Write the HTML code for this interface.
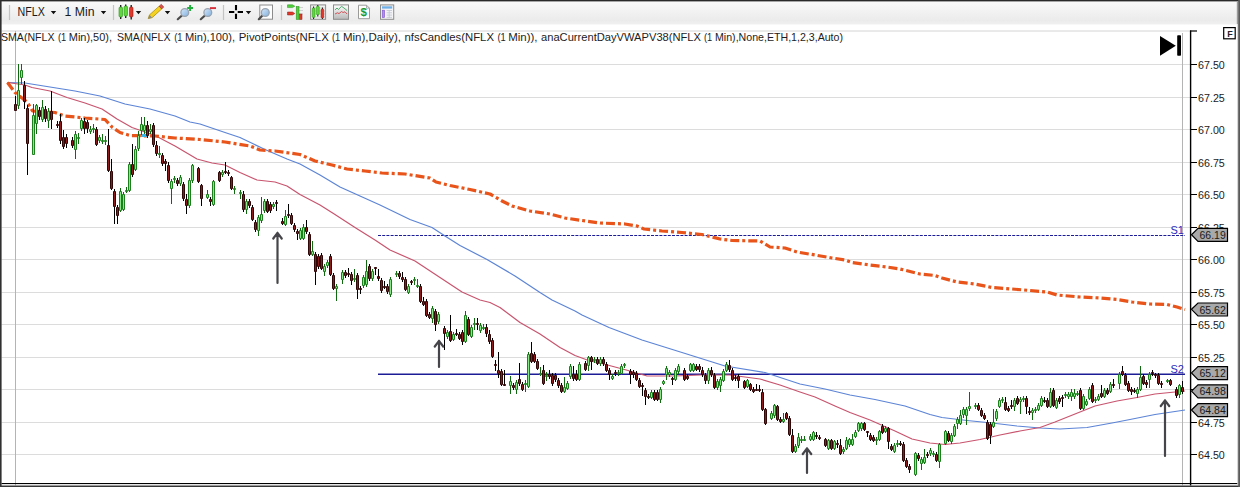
<!DOCTYPE html><html><head><meta charset="utf-8"><title>NFLX 1 Min chart</title>
<style>html,body{margin:0;padding:0;background:#fff;}body{width:1240px;height:487px;overflow:hidden;font-family:"Liberation Sans",sans-serif;}svg{display:block;}text{font-family:"Liberation Sans",sans-serif;}</style></head><body>
<svg width="1240" height="487" viewBox="0 0 1240 487">
<defs><linearGradient id="tb" x1="0" y1="0" x2="0" y2="1"><stop offset="0" stop-color="#fbfbfb"/><stop offset="0.85" stop-color="#ebebeb"/><stop offset="1" stop-color="#f0f0f0"/></linearGradient><linearGradient id="lens" x1="0" y1="0" x2="1" y2="1"><stop offset="0" stop-color="#d8e8f8"/><stop offset="1" stop-color="#7fb0e0"/></linearGradient><linearGradient id="gbox" x1="0" y1="0" x2="0" y2="1"><stop offset="0" stop-color="#ffffff"/><stop offset="1" stop-color="#b8b8b8"/></linearGradient></defs>
<rect x="0" y="0" width="1240" height="487" fill="#ffffff"/>
<rect x="0" y="0" width="1240" height="24" fill="url(#tb)"/>
<rect x="0" y="24" width="1240" height="1" fill="#f8f8f8"/>
<path d="M1.5 64.50H1190 M1.5 97.50H1190 M1.5 129.50H1190 M1.5 162.50H1190 M1.5 194.50H1190 M1.5 227.50H1190 M1.5 259.50H1190 M1.5 292.50H1190 M1.5 324.50H1190 M1.5 357.50H1190 M1.5 389.50H1190 M1.5 422.50H1190 M1.5 454.50H1190" stroke="#dcdcdc" stroke-width="1" fill="none"/>
<path d="M1.5 31H1190" stroke="#d4d4d4" stroke-width="1" fill="none"/>
<path d="M15.5 31V485.4M1182.5 33V485.4" stroke="#b4b4b4" stroke-width="1" fill="none"/>
<path d="M378 235.5H1185" stroke="#1c1c96" stroke-width="1.2" stroke-dasharray="3 1.2" fill="none"/>
<path d="M378 374.3H1185" stroke="#1c1c96" stroke-width="1.4" fill="none"/>
<path d="M7.5 82.5 L25.0 83.0 L50.0 87.0 L75.0 91.0 L100.0 96.0 L125.0 104.0 L150.0 109.0 L175.0 116.0 L190.0 122.0 L200.0 124.0 L225.0 132.5 L240.0 137.5 L265.0 149.5 L287.0 159.0 L300.0 164.0 L320.0 175.0 L340.0 187.0 L360.0 196.0 L380.0 205.0 L410.0 219.5 L432.0 227.5 L445.0 236.0 L460.0 245.5 L487.0 259.5 L515.0 276.0 L540.0 292.5 L552.0 300.0 L575.0 311.0 L582.0 315.0 L609.0 327.5 L642.0 340.0 L682.0 352.5 L725.0 366.0 L765.0 372.5 L800.0 384.0 L825.0 389.0 L850.0 395.0 L875.0 399.5 L905.0 406.0 L930.0 414.5 L942.0 417.5 L967.0 420.5 L992.0 423.0 L1017.0 426.0 L1040.0 428.0 L1060.0 429.0 L1087.0 427.5 L1112.0 423.0 L1130.0 419.5 L1155.0 414.5 L1185.0 410.0" stroke="#5c84d6" stroke-width="1.2" fill="none" stroke-linejoin="round"/>
<path d="M7.5 82.5 L25.0 85.0 L32.0 87.5 L50.0 91.0 L67.0 97.5 L85.0 103.0 L102.0 109.0 L117.0 119.0 L132.0 127.5 L155.0 135.5 L175.0 146.0 L197.0 159.0 L212.0 163.0 L225.0 165.0 L240.0 172.5 L257.0 180.0 L275.0 182.0 L287.0 186.0 L300.0 194.5 L320.0 205.0 L335.0 214.5 L355.0 227.5 L375.0 240.0 L390.0 250.0 L415.0 261.0 L440.0 277.5 L462.0 292.0 L480.0 300.0 L490.0 302.5 L500.0 307.5 L520.0 322.5 L540.0 334.0 L560.0 347.5 L575.0 355.5 L590.0 361.0 L600.0 363.0 L615.0 367.0 L630.0 371.0 L647.0 376.0 L675.0 376.0 L700.0 375.0 L730.0 375.0 L760.0 379.0 L780.0 385.0 L800.0 392.0 L815.0 397.0 L835.0 406.0 L850.0 412.5 L870.0 420.0 L887.0 427.5 L895.0 431.0 L912.0 439.0 L930.0 443.0 L945.0 444.5 L960.0 443.0 L980.0 439.5 L1000.0 435.0 L1020.0 431.0 L1040.0 427.5 L1055.0 422.0 L1075.0 414.0 L1095.0 406.0 L1117.0 401.0 L1137.0 397.5 L1155.0 394.0 L1170.0 392.5 L1185.0 391.0" stroke="#c8546e" stroke-width="1.2" fill="none" stroke-linejoin="round"/>
<path d="M7.5 82.5 L15.0 92.5 L22.0 98.0 L27.5 102.5 L32.5 111.0 L55.0 112.5 L65.0 116.0 L85.0 118.0 L105.0 119.5 L112.5 127.5 L120.0 132.5 L130.0 135.5 L155.0 136.0 L175.0 138.0 L200.0 139.5 L225.0 142.0 L250.0 146.0 L260.0 150.0 L275.0 151.0 L300.0 154.5 L315.0 161.0 L332.0 165.0 L347.0 169.0 L365.0 171.0 L382.0 173.0 L405.0 174.0 L430.0 178.0 L436.0 182.0 L450.0 185.5 L470.0 189.5 L490.0 194.0 L502.0 201.0 L512.0 206.0 L530.0 211.0 L550.0 214.0 L565.0 218.0 L582.0 220.5 L600.0 223.0 L625.0 224.0 L637.0 226.0 L644.0 229.0 L662.0 231.0 L682.0 232.5 L702.0 234.5 L720.0 239.0 L732.0 240.5 L760.0 241.0 L770.0 247.0 L785.0 248.0 L797.0 252.0 L815.0 255.0 L832.0 258.0 L845.0 260.0 L852.0 262.5 L870.0 265.0 L887.0 267.0 L900.0 269.0 L920.0 274.0 L935.0 275.5 L942.0 278.0 L957.0 282.0 L975.0 284.0 L992.0 287.5 L1012.0 289.0 L1030.0 290.5 L1047.0 292.0 L1057.0 295.0 L1080.0 297.0 L1100.0 298.0 L1117.0 299.5 L1132.0 302.0 L1150.0 304.0 L1167.0 304.5 L1177.0 307.0 L1185.0 309.5" stroke="#e8541a" stroke-width="3.2" stroke-dasharray="9 3 3 3" fill="none" stroke-linejoin="round"/>
<rect x="141" y="134" width="6" height="3" fill="#35b6e6"/>
<path d="M18.5 64V109 M21.5 64V84 M33.5 104V155 M36.5 104V134 M42.5 100V122 M48.5 108V128 M75.5 131V159 M78.5 133V144 M81.5 118V131 M90.5 126V134 M93.5 124V133 M99.5 135V143 M102.5 134V144 M105.5 136V145 M120.5 188V212 M123.5 192V211 M126.5 187V193 M129.5 162V192 M135.5 146V171 M138.5 131V151 M141.5 117V135 M144.5 117V134 M150.5 124V134 M159.5 146V158 M171.5 179V204 M174.5 176V183 M180.5 175V186 M189.5 178V208 M192.5 164V183 M207.5 190V199 M213.5 180V206 M222.5 170V177 M234.5 186V194 M240.5 190V199 M246.5 199V214 M258.5 215V236 M261.5 197V223 M264.5 199V213 M273.5 202V209 M285.5 210V226 M300.5 228V240 M303.5 224V240 M312.5 241V256 M324.5 264V276 M327.5 260V268 M336.5 284V301 M342.5 270V284 M354.5 269V282 M363.5 275V288 M366.5 260V287 M372.5 269V281 M390.5 277V297 M396.5 271V277 M408.5 284V294 M414.5 277V285 M417.5 279V288 M432.5 306V323 M438.5 312V324 M447.5 330V339 M453.5 332V341 M465.5 311V343 M471.5 325V338 M474.5 318V330 M480.5 323V333 M483.5 324V330 M510.5 376V394 M516.5 380V394 M525.5 380V392 M528.5 352V388 M540.5 367V376 M546.5 372V381 M564.5 377V393 M567.5 381V390 M570.5 364V379 M579.5 362V381 M588.5 356V371 M594.5 357V363 M600.5 357V366 M612.5 374V380 M618.5 370V376 M621.5 364V375 M624.5 363V368 M651.5 390V399 M660.5 387V403 M663.5 380V385 M666.5 366V380 M669.5 370V377 M675.5 368V381 M678.5 364V374 M690.5 363V372 M693.5 363V372 M708.5 368V384 M717.5 379V390 M720.5 377V392 M723.5 369V382 M726.5 362V372 M747.5 379V388 M771.5 411V420 M774.5 404V418 M783.5 413V423 M795.5 444V453 M798.5 433V448 M801.5 436V443 M804.5 436V441 M810.5 434V441 M813.5 431V441 M828.5 439V450 M834.5 440V450 M843.5 447V454 M846.5 437V450 M849.5 438V447 M852.5 434V446 M855.5 430V438 M858.5 422V432 M861.5 422V431 M876.5 437V445 M879.5 430V441 M885.5 426V433 M894.5 443V453 M897.5 440V447 M915.5 452V476 M921.5 457V470 M924.5 449V464 M930.5 448V456 M933.5 451V457 M939.5 443V468 M945.5 430V445 M951.5 433V444 M954.5 424V437 M957.5 417V429 M960.5 410V425 M963.5 407V418 M966.5 407V425 M969.5 392V411 M975.5 403V409 M993.5 409V428 M996.5 409V421 M999.5 398V408 M1002.5 397V403 M1014.5 398V411 M1020.5 397V414 M1023.5 396V402 M1032.5 408V420 M1035.5 407V413 M1038.5 403V411 M1041.5 396V407 M1050.5 388V408 M1056.5 398V409 M1065.5 392V398 M1068.5 392V399 M1071.5 389V401 M1074.5 389V399 M1077.5 391V396 M1083.5 394V410 M1086.5 399V406 M1089.5 387V400 M1095.5 397V403 M1098.5 394V401 M1104.5 388V398 M1110.5 382V393 M1119.5 372V389 M1137.5 387V398 M1140.5 366V391 M1149.5 372V388 M1167.5 379V383 M1179.5 384V398" stroke="#0f6a0f" stroke-width="1" fill="none"/>
<path d="M15.5 96V111 M24.5 81V109 M27.5 105V175 M39.5 107V120 M45.5 106V122 M51.5 91V129 M57.5 121V128 M60.5 114V144 M63.5 130V149 M66.5 134V148 M72.5 137V148 M84.5 118V134 M87.5 120V133 M96.5 127V146 M108.5 129V172 M111.5 159V190 M114.5 189V224 M117.5 205V224 M132.5 144V177 M147.5 121V138 M153.5 123V147 M156.5 141V156 M162.5 153V166 M165.5 159V171 M168.5 162V183 M177.5 178V186 M183.5 182V201 M186.5 194V214 M198.5 167V183 M201.5 184V206 M210.5 197V206 M219.5 171V182 M225.5 162V174 M228.5 170V176 M231.5 176V190 M243.5 191V212 M249.5 199V208 M252.5 205V221 M255.5 220V232 M267.5 199V213 M270.5 202V213 M276.5 200V211 M282.5 218V225 M288.5 204V218 M291.5 213V225 M294.5 223V232 M297.5 229V240 M306.5 220V234 M309.5 232V256 M315.5 252V285 M318.5 254V269 M321.5 253V270 M330.5 254V276 M333.5 273V290 M345.5 270V278 M348.5 268V277 M351.5 272V285 M357.5 273V299 M360.5 286V294 M369.5 264V281 M375.5 267V275 M378.5 269V281 M381.5 278V293 M384.5 281V289 M387.5 284V294 M399.5 271V279 M402.5 272V282 M405.5 277V291 M411.5 280V285 M420.5 284V303 M423.5 297V306 M426.5 299V317 M429.5 312V319 M435.5 309V331 M444.5 326V350 M450.5 315V342 M456.5 329V336 M459.5 332V340 M462.5 330V345 M468.5 317V336 M477.5 318V330 M486.5 324V337 M489.5 330V344 M492.5 338V358 M495.5 360V371 M498.5 352V378 M501.5 369V386 M504.5 370V386 M513.5 383V390 M519.5 363V386 M522.5 382V391 M531.5 342V363 M534.5 352V363 M537.5 359V370 M543.5 365V385 M549.5 370V379 M552.5 373V386 M555.5 373V382 M558.5 378V388 M561.5 383V393 M573.5 366V381 M576.5 370V381 M585.5 361V371 M591.5 356V370 M597.5 357V365 M603.5 357V366 M606.5 362V372 M609.5 368V380 M615.5 370V376 M630.5 369V384 M633.5 370V378 M636.5 371V381 M639.5 378V388 M642.5 383V396 M645.5 388V405 M648.5 394V399 M654.5 390V401 M657.5 390V401 M672.5 377V385 M684.5 368V381 M687.5 374V380 M696.5 364V371 M699.5 364V372 M702.5 367V377 M705.5 373V384 M711.5 367V377 M714.5 373V389 M729.5 360V372 M732.5 368V381 M735.5 375V381 M738.5 374V388 M744.5 380V389 M750.5 383V391 M753.5 387V393 M756.5 384V391 M759.5 385V392 M762.5 389V411 M765.5 408V425 M777.5 405V421 M780.5 417V423 M786.5 412V420 M789.5 416V436 M792.5 429V453 M816.5 432V439 M819.5 435V440 M825.5 438V447 M831.5 439V450 M837.5 440V448 M840.5 439V455 M864.5 422V431 M867.5 431V437 M870.5 433V441 M873.5 435V442 M882.5 424V434 M888.5 427V449 M891.5 444V451 M900.5 441V446 M903.5 442V462 M906.5 458V468 M909.5 464V473 M918.5 453V461 M927.5 452V458 M936.5 452V462 M948.5 431V442 M978.5 403V411 M981.5 408V417 M984.5 413V420 M987.5 420V440 M990.5 422V444 M1005.5 397V411 M1008.5 406V412 M1011.5 400V409 M1017.5 396V405 M1026.5 396V414 M1029.5 407V415 M1044.5 397V403 M1047.5 398V408 M1053.5 388V407 M1059.5 396V404 M1062.5 395V407 M1080.5 388V410 M1092.5 383V403 M1101.5 385V398 M1107.5 388V395 M1113.5 379V388 M1122.5 366V376 M1125.5 373V386 M1128.5 381V392 M1131.5 387V395 M1134.5 388V393 M1143.5 374V385 M1146.5 380V388 M1152.5 370V376 M1155.5 373V378 M1158.5 373V385 M1161.5 381V388 M1170.5 379V386 M1176.5 387V398 M1182.5 381V394" stroke="#000000" stroke-width="1" fill="none"/>
<path d="M17.5 90.5H19.5V105.5H17.5Z M20.5 70.5H22.5V77.5H20.5Z M32.5 115.5H34.5V154.5H32.5Z M35.5 105.5H37.5V123.5H35.5Z M41.5 107.5H43.5V119.5H41.5Z M47.5 111.5H49.5V120.5H47.5Z M74.5 134.5H76.5V149.5H74.5Z M77.5 137.5H79.5V138.5H77.5Z M80.5 120.5H82.5V128.5H80.5Z M89.5 129.5H91.5V131.5H89.5Z M92.5 128.5H94.5V129.5H92.5Z M98.5 137.5H100.5V140.5H98.5Z M101.5 140.5H103.5V141.5H101.5Z M104.5 140.5H106.5V141.5H104.5Z M119.5 191.5H121.5V210.5H119.5Z M122.5 194.5H124.5V209.5H122.5Z M125.5 190.5H127.5V191.5H125.5Z M128.5 164.5H130.5V190.5H128.5Z M134.5 149.5H136.5V169.5H134.5Z M137.5 135.5H139.5V148.5H137.5Z M140.5 124.5H142.5V130.5H140.5Z M143.5 125.5H145.5V130.5H143.5Z M149.5 129.5H151.5V131.5H149.5Z M158.5 153.5H160.5V154.5H158.5Z M170.5 181.5H172.5V188.5H170.5Z M173.5 178.5H175.5V179.5H173.5Z M179.5 177.5H181.5V183.5H179.5Z M188.5 180.5H190.5V205.5H188.5Z M191.5 165.5H193.5V180.5H191.5Z M206.5 194.5H208.5V197.5H206.5Z M212.5 181.5H214.5V204.5H212.5Z M221.5 172.5H223.5V174.5H221.5Z M233.5 188.5H235.5V189.5H233.5Z M239.5 192.5H241.5V193.5H239.5Z M245.5 201.5H247.5V209.5H245.5Z M257.5 217.5H259.5V230.5H257.5Z M260.5 214.5H262.5V220.5H260.5Z M263.5 201.5H265.5V210.5H263.5Z M272.5 204.5H274.5V206.5H272.5Z M284.5 216.5H286.5V224.5H284.5Z M299.5 230.5H301.5V238.5H299.5Z M302.5 227.5H304.5V238.5H302.5Z M311.5 251.5H313.5V254.5H311.5Z M323.5 266.5H325.5V271.5H323.5Z M326.5 262.5H328.5V265.5H326.5Z M335.5 286.5H337.5V288.5H335.5Z M341.5 272.5H343.5V279.5H341.5Z M353.5 278.5H355.5V279.5H353.5Z M362.5 277.5H364.5V285.5H362.5Z M365.5 271.5H367.5V284.5H365.5Z M371.5 271.5H373.5V278.5H371.5Z M389.5 279.5H391.5V294.5H389.5Z M395.5 273.5H397.5V274.5H395.5Z M407.5 286.5H409.5V292.5H407.5Z M413.5 279.5H415.5V280.5H413.5Z M416.5 285.5H418.5V286.5H416.5Z M431.5 308.5H433.5V318.5H431.5Z M437.5 314.5H439.5V321.5H437.5Z M446.5 332.5H448.5V336.5H446.5Z M452.5 334.5H454.5V339.5H452.5Z M464.5 315.5H466.5V341.5H464.5Z M470.5 327.5H472.5V336.5H470.5Z M473.5 323.5H475.5V324.5H473.5Z M479.5 325.5H481.5V330.5H479.5Z M482.5 327.5H484.5V328.5H482.5Z M509.5 381.5H511.5V385.5H509.5Z M515.5 382.5H517.5V389.5H515.5Z M524.5 383.5H526.5V384.5H524.5Z M527.5 354.5H529.5V386.5H527.5Z M539.5 373.5H541.5V374.5H539.5Z M545.5 375.5H547.5V376.5H545.5Z M563.5 387.5H565.5V391.5H563.5Z M566.5 383.5H568.5V388.5H566.5Z M569.5 366.5H571.5V376.5H569.5Z M578.5 364.5H580.5V379.5H578.5Z M587.5 357.5H589.5V365.5H587.5Z M593.5 359.5H595.5V360.5H593.5Z M599.5 359.5H601.5V363.5H599.5Z M611.5 376.5H613.5V378.5H611.5Z M617.5 372.5H619.5V373.5H617.5Z M620.5 366.5H622.5V373.5H620.5Z M623.5 364.5H625.5V365.5H623.5Z M650.5 392.5H652.5V397.5H650.5Z M659.5 389.5H661.5V399.5H659.5Z M662.5 381.5H664.5V383.5H662.5Z M665.5 368.5H667.5V374.5H665.5Z M668.5 372.5H670.5V374.5H668.5Z M674.5 370.5H676.5V379.5H674.5Z M677.5 366.5H679.5V371.5H677.5Z M689.5 364.5H691.5V370.5H689.5Z M692.5 364.5H694.5V370.5H692.5Z M707.5 370.5H709.5V380.5H707.5Z M716.5 381.5H718.5V387.5H716.5Z M719.5 379.5H721.5V385.5H719.5Z M722.5 371.5H724.5V380.5H722.5Z M725.5 364.5H727.5V370.5H725.5Z M746.5 380.5H748.5V386.5H746.5Z M770.5 413.5H772.5V418.5H770.5Z M773.5 405.5H775.5V415.5H773.5Z M782.5 419.5H784.5V421.5H782.5Z M794.5 446.5H796.5V451.5H794.5Z M797.5 437.5H799.5V445.5H797.5Z M800.5 439.5H802.5V440.5H800.5Z M803.5 439.5H805.5V440.5H803.5Z M809.5 436.5H811.5V439.5H809.5Z M812.5 432.5H814.5V439.5H812.5Z M827.5 440.5H829.5V448.5H827.5Z M833.5 441.5H835.5V448.5H833.5Z M842.5 449.5H844.5V451.5H842.5Z M845.5 440.5H847.5V448.5H845.5Z M848.5 439.5H850.5V444.5H848.5Z M851.5 439.5H853.5V444.5H851.5Z M854.5 432.5H856.5V436.5H854.5Z M857.5 423.5H859.5V430.5H857.5Z M860.5 423.5H862.5V428.5H860.5Z M875.5 439.5H877.5V440.5H875.5Z M878.5 431.5H880.5V439.5H878.5Z M884.5 428.5H886.5V431.5H884.5Z M893.5 445.5H895.5V451.5H893.5Z M896.5 443.5H898.5V444.5H896.5Z M914.5 453.5H916.5V474.5H914.5Z M920.5 459.5H922.5V463.5H920.5Z M923.5 457.5H925.5V462.5H923.5Z M929.5 450.5H931.5V453.5H929.5Z M932.5 453.5H934.5V454.5H932.5Z M938.5 444.5H940.5V461.5H938.5Z M944.5 431.5H946.5V443.5H944.5Z M950.5 435.5H952.5V441.5H950.5Z M953.5 426.5H955.5V435.5H953.5Z M956.5 419.5H958.5V423.5H956.5Z M959.5 415.5H961.5V423.5H959.5Z M962.5 409.5H964.5V414.5H962.5Z M965.5 409.5H967.5V415.5H965.5Z M968.5 406.5H970.5V408.5H968.5Z M974.5 405.5H976.5V406.5H974.5Z M992.5 422.5H994.5V426.5H992.5Z M995.5 411.5H997.5V418.5H995.5Z M998.5 400.5H1000.5V406.5H998.5Z M1001.5 399.5H1003.5V400.5H1001.5Z M1013.5 400.5H1015.5V406.5H1013.5Z M1019.5 399.5H1021.5V401.5H1019.5Z M1022.5 398.5H1024.5V399.5H1022.5Z M1031.5 410.5H1033.5V412.5H1031.5Z M1034.5 409.5H1036.5V410.5H1034.5Z M1037.5 405.5H1039.5V409.5H1037.5Z M1040.5 398.5H1042.5V405.5H1040.5Z M1049.5 392.5H1051.5V406.5H1049.5Z M1055.5 400.5H1057.5V407.5H1055.5Z M1064.5 394.5H1066.5V395.5H1064.5Z M1067.5 394.5H1069.5V396.5H1067.5Z M1070.5 392.5H1072.5V396.5H1070.5Z M1073.5 393.5H1075.5V396.5H1073.5Z M1076.5 393.5H1078.5V394.5H1076.5Z M1082.5 396.5H1084.5V408.5H1082.5Z M1085.5 401.5H1087.5V404.5H1085.5Z M1088.5 389.5H1090.5V398.5H1088.5Z M1094.5 399.5H1096.5V400.5H1094.5Z M1097.5 396.5H1099.5V399.5H1097.5Z M1103.5 390.5H1105.5V396.5H1103.5Z M1109.5 384.5H1111.5V391.5H1109.5Z M1118.5 374.5H1120.5V383.5H1118.5Z M1136.5 389.5H1138.5V393.5H1136.5Z M1139.5 377.5H1141.5V389.5H1139.5Z M1148.5 374.5H1150.5V379.5H1148.5Z M1166.5 380.5H1168.5V381.5H1166.5Z M1178.5 385.5H1180.5V394.5H1178.5Z" stroke="#1c801c" stroke-width="1" fill="#84ea84"/>
<path d="M14.5 104.5H16.5V110.5H14.5Z M23.5 85.5H25.5V101.5H23.5Z M26.5 108.5H28.5V143.5H26.5Z M38.5 110.5H40.5V116.5H38.5Z M44.5 109.5H46.5V118.5H44.5Z M50.5 111.5H52.5V119.5H50.5Z M56.5 124.5H58.5V125.5H56.5Z M59.5 121.5H61.5V140.5H59.5Z M62.5 137.5H64.5V146.5H62.5Z M65.5 137.5H67.5V143.5H65.5Z M71.5 140.5H73.5V145.5H71.5Z M83.5 121.5H85.5V128.5H83.5Z M86.5 122.5H88.5V128.5H86.5Z M95.5 129.5H97.5V144.5H95.5Z M107.5 145.5H109.5V170.5H107.5Z M110.5 171.5H112.5V188.5H110.5Z M113.5 191.5H115.5V206.5H113.5Z M116.5 207.5H118.5V215.5H116.5Z M131.5 164.5H133.5V174.5H131.5Z M146.5 125.5H148.5V135.5H146.5Z M152.5 125.5H154.5V144.5H152.5Z M155.5 145.5H157.5V153.5H155.5Z M161.5 155.5H163.5V163.5H161.5Z M164.5 161.5H166.5V163.5H164.5Z M167.5 165.5H169.5V180.5H167.5Z M176.5 180.5H178.5V183.5H176.5Z M182.5 184.5H184.5V198.5H182.5Z M185.5 199.5H187.5V205.5H185.5Z M197.5 168.5H199.5V181.5H197.5Z M200.5 185.5H202.5V198.5H200.5Z M209.5 199.5H211.5V201.5H209.5Z M218.5 172.5H220.5V180.5H218.5Z M224.5 171.5H226.5V172.5H224.5Z M227.5 172.5H229.5V173.5H227.5Z M230.5 177.5H232.5V188.5H230.5Z M242.5 194.5H244.5V209.5H242.5Z M248.5 201.5H250.5V205.5H248.5Z M251.5 207.5H253.5V219.5H251.5Z M254.5 222.5H256.5V229.5H254.5Z M266.5 201.5H268.5V211.5H266.5Z M269.5 204.5H271.5V210.5H269.5Z M275.5 202.5H277.5V203.5H275.5Z M281.5 221.5H283.5V223.5H281.5Z M287.5 214.5H289.5V215.5H287.5Z M290.5 215.5H292.5V223.5H290.5Z M293.5 225.5H295.5V229.5H293.5Z M296.5 231.5H298.5V233.5H296.5Z M305.5 227.5H307.5V231.5H305.5Z M308.5 234.5H310.5V254.5H308.5Z M314.5 254.5H316.5V271.5H314.5Z M317.5 256.5H319.5V266.5H317.5Z M320.5 255.5H322.5V268.5H320.5Z M329.5 256.5H331.5V274.5H329.5Z M332.5 275.5H334.5V288.5H332.5Z M344.5 272.5H346.5V275.5H344.5Z M347.5 273.5H349.5V274.5H347.5Z M350.5 274.5H352.5V280.5H350.5Z M356.5 275.5H358.5V289.5H356.5Z M359.5 288.5H361.5V289.5H359.5Z M368.5 266.5H370.5V278.5H368.5Z M374.5 267.5H376.5V268.5H374.5Z M377.5 276.5H379.5V278.5H377.5Z M380.5 280.5H382.5V290.5H380.5Z M383.5 286.5H385.5V287.5H383.5Z M386.5 286.5H388.5V291.5H386.5Z M398.5 273.5H400.5V276.5H398.5Z M401.5 277.5H403.5V279.5H401.5Z M404.5 279.5H406.5V289.5H404.5Z M410.5 281.5H412.5V282.5H410.5Z M419.5 286.5H421.5V301.5H419.5Z M422.5 301.5H424.5V304.5H422.5Z M425.5 301.5H427.5V315.5H425.5Z M428.5 314.5H430.5V317.5H428.5Z M434.5 311.5H436.5V324.5H434.5Z M443.5 328.5H445.5V333.5H443.5Z M449.5 331.5H451.5V340.5H449.5Z M455.5 333.5H457.5V334.5H455.5Z M458.5 334.5H460.5V338.5H458.5Z M461.5 332.5H463.5V341.5H461.5Z M467.5 319.5H469.5V334.5H467.5Z M476.5 323.5H478.5V324.5H476.5Z M485.5 327.5H487.5V333.5H485.5Z M488.5 334.5H490.5V341.5H488.5Z M491.5 340.5H493.5V356.5H491.5Z M494.5 364.5H496.5V365.5H494.5Z M497.5 370.5H499.5V373.5H497.5Z M500.5 371.5H502.5V384.5H500.5Z M503.5 384.5H505.5V385.5H503.5Z M512.5 385.5H514.5V387.5H512.5Z M518.5 379.5H520.5V383.5H518.5Z M521.5 384.5H523.5V389.5H521.5Z M530.5 353.5H532.5V361.5H530.5Z M533.5 354.5H535.5V361.5H533.5Z M536.5 361.5H538.5V368.5H536.5Z M542.5 370.5H544.5V383.5H542.5Z M548.5 374.5H550.5V376.5H548.5Z M551.5 375.5H553.5V383.5H551.5Z M554.5 375.5H556.5V379.5H554.5Z M557.5 380.5H559.5V385.5H557.5Z M560.5 385.5H562.5V391.5H560.5Z M572.5 374.5H574.5V378.5H572.5Z M575.5 374.5H577.5V379.5H575.5Z M584.5 363.5H586.5V369.5H584.5Z M590.5 357.5H592.5V361.5H590.5Z M596.5 359.5H598.5V363.5H596.5Z M602.5 359.5H604.5V363.5H602.5Z M605.5 364.5H607.5V370.5H605.5Z M608.5 370.5H610.5V374.5H608.5Z M614.5 372.5H616.5V373.5H614.5Z M629.5 371.5H631.5V374.5H629.5Z M632.5 372.5H634.5V374.5H632.5Z M635.5 373.5H637.5V379.5H635.5Z M638.5 380.5H640.5V386.5H638.5Z M641.5 385.5H643.5V386.5H641.5Z M644.5 390.5H646.5V396.5H644.5Z M647.5 396.5H649.5V397.5H647.5Z M653.5 392.5H655.5V399.5H653.5Z M656.5 392.5H658.5V399.5H656.5Z M671.5 378.5H673.5V379.5H671.5Z M683.5 370.5H685.5V379.5H683.5Z M686.5 376.5H688.5V378.5H686.5Z M695.5 366.5H697.5V369.5H695.5Z M698.5 366.5H700.5V369.5H698.5Z M701.5 370.5H703.5V374.5H701.5Z M704.5 375.5H706.5V380.5H704.5Z M710.5 370.5H712.5V374.5H710.5Z M713.5 375.5H715.5V387.5H713.5Z M728.5 365.5H730.5V369.5H728.5Z M731.5 370.5H733.5V379.5H731.5Z M734.5 377.5H736.5V378.5H734.5Z M737.5 376.5H739.5V380.5H737.5Z M743.5 381.5H745.5V387.5H743.5Z M749.5 384.5H751.5V389.5H749.5Z M752.5 389.5H754.5V391.5H752.5Z M755.5 389.5H757.5V390.5H755.5Z M758.5 389.5H760.5V390.5H758.5Z M761.5 392.5H763.5V409.5H761.5Z M764.5 409.5H766.5V423.5H764.5Z M776.5 406.5H778.5V419.5H776.5Z M779.5 419.5H781.5V421.5H779.5Z M785.5 413.5H787.5V418.5H785.5Z M788.5 418.5H790.5V434.5H788.5Z M791.5 435.5H793.5V451.5H791.5Z M815.5 435.5H817.5V436.5H815.5Z M818.5 437.5H820.5V438.5H818.5Z M824.5 439.5H826.5V445.5H824.5Z M830.5 440.5H832.5V448.5H830.5Z M836.5 443.5H838.5V444.5H836.5Z M839.5 445.5H841.5V453.5H839.5Z M863.5 423.5H865.5V429.5H863.5Z M866.5 431.5H868.5V432.5H866.5Z M869.5 435.5H871.5V439.5H869.5Z M872.5 437.5H874.5V440.5H872.5Z M881.5 426.5H883.5V432.5H881.5Z M887.5 428.5H889.5V441.5H887.5Z M890.5 446.5H892.5V449.5H890.5Z M899.5 443.5H901.5V444.5H899.5Z M902.5 444.5H904.5V460.5H902.5Z M905.5 460.5H907.5V466.5H905.5Z M908.5 466.5H910.5V469.5H908.5Z M917.5 455.5H919.5V458.5H917.5Z M926.5 454.5H928.5V455.5H926.5Z M935.5 454.5H937.5V460.5H935.5Z M947.5 433.5H949.5V440.5H947.5Z M977.5 405.5H979.5V409.5H977.5Z M980.5 410.5H982.5V415.5H980.5Z M983.5 415.5H985.5V418.5H983.5Z M986.5 422.5H988.5V438.5H986.5Z M989.5 424.5H991.5V435.5H989.5Z M1004.5 402.5H1006.5V409.5H1004.5Z M1007.5 408.5H1009.5V410.5H1007.5Z M1010.5 405.5H1012.5V406.5H1010.5Z M1016.5 398.5H1018.5V403.5H1016.5Z M1025.5 398.5H1027.5V406.5H1025.5Z M1028.5 411.5H1030.5V412.5H1028.5Z M1043.5 400.5H1045.5V401.5H1043.5Z M1046.5 400.5H1048.5V406.5H1046.5Z M1052.5 390.5H1054.5V405.5H1052.5Z M1058.5 398.5H1060.5V401.5H1058.5Z M1061.5 397.5H1063.5V398.5H1061.5Z M1079.5 390.5H1081.5V408.5H1079.5Z M1091.5 385.5H1093.5V401.5H1091.5Z M1100.5 393.5H1102.5V396.5H1100.5Z M1106.5 390.5H1108.5V393.5H1106.5Z M1112.5 384.5H1114.5V385.5H1112.5Z M1121.5 371.5H1123.5V374.5H1121.5Z M1124.5 375.5H1126.5V384.5H1124.5Z M1127.5 383.5H1129.5V390.5H1127.5Z M1130.5 389.5H1132.5V391.5H1130.5Z M1133.5 390.5H1135.5V391.5H1133.5Z M1142.5 376.5H1144.5V383.5H1142.5Z M1145.5 382.5H1147.5V384.5H1145.5Z M1151.5 372.5H1153.5V373.5H1151.5Z M1154.5 374.5H1156.5V375.5H1154.5Z M1157.5 375.5H1159.5V383.5H1157.5Z M1160.5 383.5H1162.5V384.5H1160.5Z M1169.5 380.5H1171.5V384.5H1169.5Z M1175.5 389.5H1177.5V395.5H1175.5Z M1181.5 387.5H1183.5V391.5H1181.5Z" stroke="#300808" stroke-width="1" fill="#8e1c1c"/>
<path d="M277.5 283V232.8M273.3 238.5L277.5 232.8L281.7 238.5 M439 367V340.8M434.8 346.5L439 340.8L443.2 346.5 M807 473V448.3M802.8 454.0L807 448.3L811.2 454.0 M1165 456V400.3M1160.8 406.0L1165 400.3L1169.2 406.0" stroke="#46464a" stroke-width="2.2" fill="none" stroke-linecap="round" stroke-linejoin="round"/>
<text x="1170.5" y="234" font-size="11" fill="#2a2ac0">S1</text>
<text x="1170.5" y="373" font-size="11" fill="#2a2ac0">S2</text>
<text y="41" font-size="11" fill="#1c1c1c"><tspan x="1" textLength="53.50" lengthAdjust="spacingAndGlyphs">SMA(NFLX</tspan> <tspan x="58" textLength="8.3" lengthAdjust="spacingAndGlyphs">(1</tspan> <tspan x="68.75" textLength="43.25" lengthAdjust="spacingAndGlyphs">Min),50),</tspan> <tspan x="117" textLength="53.50" lengthAdjust="spacingAndGlyphs">SMA(NFLX</tspan> <tspan x="174.25" textLength="8.3" lengthAdjust="spacingAndGlyphs">(1</tspan> <tspan x="185" textLength="50.00" lengthAdjust="spacingAndGlyphs">Min),100),</tspan> <tspan x="238.75" textLength="90.00" lengthAdjust="spacingAndGlyphs">PivotPoints(NFLX</tspan> <tspan x="332" textLength="8.3" lengthAdjust="spacingAndGlyphs">(1</tspan> <tspan x="343" textLength="58.00" lengthAdjust="spacingAndGlyphs">Min),Daily),</tspan> <tspan x="404.5" textLength="89.50" lengthAdjust="spacingAndGlyphs">nfsCandles(NFLX</tspan> <tspan x="497.5" textLength="8.3" lengthAdjust="spacingAndGlyphs">(1</tspan> <tspan x="508.25" textLength="29.25" lengthAdjust="spacingAndGlyphs">Min)),</tspan> <tspan x="541" textLength="160.00" lengthAdjust="spacingAndGlyphs">anaCurrentDayVWAPV38(NFLX</tspan> <tspan x="704" textLength="8.3" lengthAdjust="spacingAndGlyphs">(1</tspan> <tspan x="715" textLength="128.00" lengthAdjust="spacingAndGlyphs">Min),None,ETH,1,2,3,Auto)</tspan></text>
<path d="M1160 36L1175.8 45.8L1160 55.7Z" fill="#000"/><rect x="1177.2" y="35.2" width="3.8" height="20.5" rx="0.8" fill="#000"/>
<path d="M1190.6 30.5V485.4" stroke="#000" stroke-width="1.4" fill="none"/><path d="M1190 31H1197" stroke="#000" stroke-width="1.2" fill="none"/>
<path d="M1191 64.50H1197 M1191 97.50H1197 M1191 129.50H1197 M1191 162.50H1197 M1191 194.50H1197 M1191 227.50H1197 M1191 259.50H1197 M1191 292.50H1197 M1191 324.50H1197 M1191 357.50H1197 M1191 389.50H1197 M1191 422.50H1197 M1191 454.50H1197" stroke="#000" stroke-width="1.2" fill="none"/>
<text x="1198" y="68.8" font-size="11" fill="#1a1a1a" textLength="26.8" lengthAdjust="spacingAndGlyphs">67.50</text><text x="1198" y="101.8" font-size="11" fill="#1a1a1a" textLength="26.8" lengthAdjust="spacingAndGlyphs">67.25</text><text x="1198" y="133.8" font-size="11" fill="#1a1a1a" textLength="26.8" lengthAdjust="spacingAndGlyphs">67.00</text><text x="1198" y="166.8" font-size="11" fill="#1a1a1a" textLength="26.8" lengthAdjust="spacingAndGlyphs">66.75</text><text x="1198" y="198.8" font-size="11" fill="#1a1a1a" textLength="26.8" lengthAdjust="spacingAndGlyphs">66.50</text><text x="1198" y="231.8" font-size="11" fill="#1a1a1a" textLength="26.8" lengthAdjust="spacingAndGlyphs">66.25</text><text x="1198" y="263.8" font-size="11" fill="#1a1a1a" textLength="26.8" lengthAdjust="spacingAndGlyphs">66.00</text><text x="1198" y="296.8" font-size="11" fill="#1a1a1a" textLength="26.8" lengthAdjust="spacingAndGlyphs">65.75</text><text x="1198" y="328.8" font-size="11" fill="#1a1a1a" textLength="26.8" lengthAdjust="spacingAndGlyphs">65.50</text><text x="1198" y="361.8" font-size="11" fill="#1a1a1a" textLength="26.8" lengthAdjust="spacingAndGlyphs">65.25</text><text x="1198" y="426.8" font-size="11" fill="#1a1a1a" textLength="26.8" lengthAdjust="spacingAndGlyphs">64.75</text><text x="1198" y="458.8" font-size="11" fill="#1a1a1a" textLength="26.8" lengthAdjust="spacingAndGlyphs">64.50</text>
<path d="M1191.5 234.7L1198 228.4H1227.5V241.4H1198Z" fill="#a9a9a9" stroke="#000" stroke-width="1.2" stroke-linejoin="miter"/><text x="1199.5" y="238.9" font-size="11" fill="#1a1a1a" textLength="26.3" lengthAdjust="spacingAndGlyphs">66.19</text>
<path d="M1191.5 309.3L1198 303.0H1227.5V316.0H1198Z" fill="#a9a9a9" stroke="#000" stroke-width="1.2" stroke-linejoin="miter"/><text x="1199.5" y="313.5" font-size="11" fill="#1a1a1a" textLength="26.3" lengthAdjust="spacingAndGlyphs">65.62</text>
<path d="M1191.5 372.9L1198 366.6H1227.5V379.6H1198Z" fill="#a9a9a9" stroke="#000" stroke-width="1.2" stroke-linejoin="miter"/><text x="1199.5" y="377.1" font-size="11" fill="#1a1a1a" textLength="26.3" lengthAdjust="spacingAndGlyphs">65.12</text>
<path d="M1191.5 391.1L1198 384.8H1227.5V397.8H1198Z" fill="#a9a9a9" stroke="#000" stroke-width="1.2" stroke-linejoin="miter"/><text x="1199.5" y="395.3" font-size="11" fill="#1a1a1a" textLength="26.3" lengthAdjust="spacingAndGlyphs">64.98</text>
<path d="M1191.5 410.0L1198 403.7H1227.5V416.7H1198Z" fill="#a9a9a9" stroke="#000" stroke-width="1.2" stroke-linejoin="miter"/><text x="1199.5" y="414.2" font-size="11" fill="#1a1a1a" textLength="26.3" lengthAdjust="spacingAndGlyphs">64.84</text>
<rect x="1223.7" y="27.6" width="11.5" height="11.2" fill="#fff" stroke="#000" stroke-width="1.2"/>
<text x="1227.2" y="36.6" font-size="9" font-weight="bold" fill="#222">F</text>
<path d="M9.5 5V20M113.5 5V20M223.5 5V20M281.5 5V20" stroke="#c4c4c4" stroke-width="1.2" fill="none"/>
<text x="17.5" y="16.2" font-size="12" fill="#1a1a1a" textLength="27.3" lengthAdjust="spacingAndGlyphs">NFLX</text>
<text x="64.5" y="16.2" font-size="12" fill="#1a1a1a" textLength="30" lengthAdjust="spacingAndGlyphs">1 Min</text>
<path d="M50.8 11L56.2 11L53.5 14.2Z M100.8 11L106.2 11L103.5 14.2Z M135.8 11L141.2 11L138.5 14.2Z M164.8 11L170.2 11L167.5 14.2Z M245.8 11L251.2 11L248.5 14.2Z" fill="#111"/>
<path d="M120.7 5V19M125.7 4.5V18M131.2 5V19.5" stroke="#111" stroke-width="1.3"/>
<rect x="119" y="7" width="3.5" height="10" rx="1.2" fill="#5ed83a" stroke="#2b8a1c" stroke-width="0.6"/>
<rect x="124" y="6" width="3.5" height="10" rx="1.2" fill="#5ed83a" stroke="#2b8a1c" stroke-width="0.6"/>
<rect x="129.5" y="7" width="3.5" height="10" rx="1.2" fill="#e0392c" stroke="#8a1c14" stroke-width="0.6"/>
<g transform="translate(148.2,18.6) rotate(-42)"><path d="M0 0L3.5 -1.9H16.5V1.9H3.5Z" fill="#f4d21f" stroke="#a88a10" stroke-width="0.7"/><path d="M0 0L3.5 -1.9V1.9Z" fill="#8a8a8a"/><rect x="16.5" y="-1.9" width="2.8" height="3.8" fill="#d9534f" stroke="#9a2a26" stroke-width="0.5"/></g>
<path d="M182.20000000000002 15.3L177.8 19.2" stroke="#4a4a4a" stroke-width="2.2" stroke-linecap="round"/><circle cx="184.8" cy="12.5" r="3.9" fill="url(#lens)" stroke="#9aa4b0" stroke-width="1.3"/>
<path d="M187.2 8H193M190.1 5.1V10.9" stroke="#1eb03a" stroke-width="1.9"/>
<path d="M205.20000000000002 15.3L200.8 19.2" stroke="#4a4a4a" stroke-width="2.2" stroke-linecap="round"/><circle cx="207.8" cy="12.5" r="3.9" fill="url(#lens)" stroke="#9aa4b0" stroke-width="1.3"/>
<path d="M210 8.1H216" stroke="#d7303a" stroke-width="1.9"/>
<path d="M229 12H234.3M237.7 12H243M236 5V10.3M236 13.7V19" stroke="#000" stroke-width="2.1"/>
<rect x="259.8" y="5" width="12.7" height="14.2" fill="#fdfdfd" stroke="#8c8c8c" stroke-width="1"/>
<path d="M262.7 15.3L258.8 19.2" stroke="#4a4a4a" stroke-width="2.2" stroke-linecap="round"/><circle cx="265.3" cy="12.5" r="3.9" fill="url(#lens)" stroke="#9aa4b0" stroke-width="1.3"/>
<path d="M296 7.5H303M296 10.5H303M296 14H303" stroke="#d0d0d0" stroke-width="1"/>
<path d="M287.5 4.8H292.5L294.8 6.2L292.5 7.6H287.5Z" fill="#4fd23a" stroke="#2b8a1c" stroke-width="0.5"/>
<path d="M287.5 12H292.5L294.8 13.5L292.5 15H287.5Z" fill="#e0392c" stroke="#8a1c14" stroke-width="0.5"/>
<rect x="296.2" y="6.5" width="2.8" height="13" fill="#4fd23a" stroke="#2b8a1c" stroke-width="0.5"/><rect x="299.6" y="14" width="2.4" height="5.5" fill="#e0392c" stroke="#8a1c14" stroke-width="0.5"/>
<rect x="310.6" y="4.9" width="15" height="14.4" fill="#f1f1f1" stroke="#8c8c8c" stroke-width="1"/>
<path d="M311.5 8H325M311.5 11H325M311.5 14H325M311.5 17H325" stroke="#cfcfcf" stroke-width="0.8"/>
<path d="M313.6 6.5V19M317.8 5V16.5M322.4 7.5V19" stroke="#111" stroke-width="1"/>
<rect x="312.2" y="8" width="2.8" height="9.5" rx="1" fill="#5ed83a" stroke="#2b8a1c" stroke-width="0.5"/><rect x="316.3" y="6.3" width="3" height="8.5" rx="1" fill="#5ed83a" stroke="#2b8a1c" stroke-width="0.5"/><rect x="321" y="9" width="2.8" height="9" rx="1" fill="#e0392c" stroke="#8a1c14" stroke-width="0.5"/>
<rect x="333.5" y="4.9" width="15" height="14.4" fill="url(#gbox)" stroke="#8c8c8c" stroke-width="1"/>
<path d="M335 10L337 8L338.5 9.5L341.5 6.3L344 8L347 10.5" stroke="#3aa860" stroke-width="0.9" fill="none"/><path d="M335 14L337.5 12.8L339 13.6L341.5 11.5L343 12.5L345 11.8L347 14" stroke="#d0454a" stroke-width="0.9" fill="none"/>
<path d="M358.5 5.2H366.5L369.5 8.2V18.7H358.5Z" fill="#fdfdfd" stroke="#9a9a9a" stroke-width="1"/><path d="M366.5 5.2V8.2H369.5" fill="none" stroke="#9a9a9a" stroke-width="0.8"/>
<text x="360.6" y="16.4" font-size="11.5" font-weight="bold" fill="#1f9a2e">$</text>
<rect x="380.5" y="4.9" width="13.2" height="14.4" fill="#f4f4f6" stroke="#8c8c8c" stroke-width="1"/>
<rect x="382" y="6.3" width="10.2" height="2.3" fill="#6fb0e6"/>
<rect x="382.2" y="10.2" width="2.4" height="7.4" fill="#b48cf0" stroke="#7a52c8" stroke-width="0.6"/>
<path d="M386.5 10.5H392M386.5 12.8H392M386.5 15.1H392M386.5 17.4H392M389.2 10V18" stroke="#c4c8d4" stroke-width="0.9"/>
<rect x="0" y="0" width="1240" height="1.4" fill="#2a2a2a"/>
<rect x="0" y="0" width="1.6" height="487" fill="#303030"/>
<rect x="1.6" y="483" width="1236" height="1.1" fill="#000"/>
<rect x="0" y="485.5" width="1240" height="1.5" fill="#363636"/>
<rect x="1236.8" y="1.4" width="1.4" height="22.6" fill="#9a9a9a"/>
<rect x="1237.4" y="24" width="1.1" height="461" fill="#bdbdbd"/>
<rect x="1238.2" y="0" width="1.8" height="487" fill="#5a5a5a"/>
</svg></body></html>
